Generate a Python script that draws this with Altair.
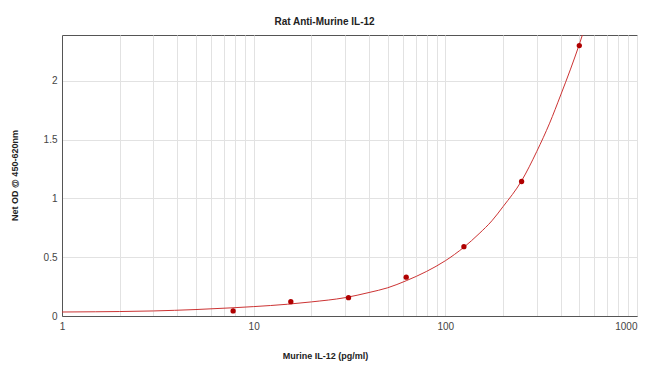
import altair as alt
import pandas as pd

# Measured standards
conc = [7.8125, 15.625, 31.25, 62.5, 125, 250, 500]
od = [0.043, 0.122, 0.156, 0.33, 0.59, 1.144, 2.30]

# Fitted curve
curve_x = [1, 1.5, 2, 3, 5, 7.8, 10, 15, 20, 30, 40, 50, 62.5, 80, 100, 125, 150, 175, 200, 250, 300, 350, 400, 450, 500, 550]
curve_y = [0.034, 0.036, 0.038, 0.043, 0.055, 0.07, 0.08, 0.1, 0.12, 0.156, 0.2, 0.24, 0.3, 0.38, 0.47, 0.585, 0.7, 0.81, 0.93, 1.15, 1.40, 1.64, 1.88, 2.1, 2.31, 2.52]

grid_vals = [m * 10 ** e for e in range(3) for m in range(1, 10)] + [1000]

pts = pd.DataFrame({"conc": conc, "od": od})
cur = pd.DataFrame({"x": curve_x, "y": curve_y})

FONT = "Liberation Sans"

xscale = alt.Scale(type="log", domain=[1, 1000])
yscale = alt.Scale(domain=[0, 2.39], nice=False, zero=True)

xaxis = alt.Axis(
    values=grid_vals,
    format="d",
    labelExpr="indexof([1,10,100,1000], datum.value) >= 0 ? datum.label : ''",
    labelAlign={"condition": {"test": "datum.value >= 1000", "value": "right"}, "value": "center"},
    ticks=False,
    grid=True,
    gridColor="#e2e2e2",
    domainColor="#555555",
    labelColor="#444444",
    labelFontSize=10,
    labelFont=FONT,
    labelPadding=5,
    title="Murine IL-12 (pg/ml)",
    titleFont=FONT,
    titleFontSize=9,
    titleFontWeight="bold",
    titleColor="#222222",
    titleX=263,
    titleY=39,
    titleAlign="center",
    titleBaseline="middle",
)
yaxis = alt.Axis(
    values=[0, 0.5, 1, 1.5, 2],
    format="~g",
    ticks=False,
    grid=True,
    gridColor="#e2e2e2",
    domainColor="#555555",
    labelColor="#444444",
    labelFontSize=10,
    labelFont=FONT,
    labelPadding=5,
    title="Net OD @ 450-620nm",
    titleFont=FONT,
    titleFontSize=9,
    titleFontWeight="bold",
    titleColor="#222222",
    titleX=-48,
    titleY=140,
    titleAngle=-90,
    titleAlign="center",
    titleBaseline="middle",
)

line = alt.Chart(cur).mark_line(color="#cc3333", strokeWidth=1, clip=True, interpolate="monotone").encode(
    x=alt.X("x:Q", scale=xscale, axis=xaxis),
    y=alt.Y("y:Q", scale=yscale, axis=yaxis),
)
points = alt.Chart(pts).mark_circle(color="#b00000", size=28, opacity=1).encode(
    x=alt.X("conc:Q", scale=xscale),
    y=alt.Y("od:Q", scale=yscale),
)

chart = (
    alt.layer(line, points)
    .properties(
        width=575,
        height=281,
        title=alt.TitleParams(
            "Rat Anti-Murine IL-12",
            font=FONT,
            fontSize=10,
            fontWeight="bold",
            color="#222222",
            anchor="middle",
            dx=-25,
            offset=8,
        ),
        autosize=alt.AutoSizeParams(type="none"),
        padding={"left": 54, "top": 27, "right": 5, "bottom": 50},
        background="white",
    )
    .configure_view(stroke="#555555", strokeWidth=1)
)

chart.save("out.html", embed_options={"renderer": "svg", "actions": False})
